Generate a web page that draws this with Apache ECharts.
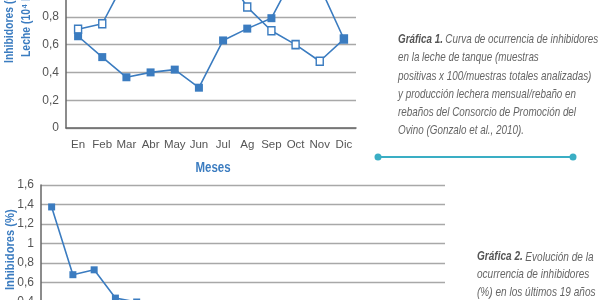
<!DOCTYPE html>
<html><head><meta charset="utf-8">
<script src="https://cdn.jsdelivr.net/npm/echarts@6/dist/echarts.min.js"></script>
<style>html,body{margin:0;padding:0;background:#fff}#c{width:600px;height:300px}</style>
</head><body><div id="c"></div>
<script>
// Gráfica 1
const months = ['En','Feb','Mar','Abr','May','Jun','Jul','Ag','Sep','Oct','Nov','Dic'];
const inhibidores = [0.66,0.51,0.365,0.40,0.42,0.29,0.63,0.715,0.79,1.12,1.02,0.64];
const leche = [0.71,0.75,1.08,1.20,1.25,1.20,1.14,0.87,0.70,0.60,0.48,0.64];
// Gráfica 2
const years = ['1990','1991','1992','1993','1994','1995','1996','1997','1998','1999','2000','2001','2002','2003','2004','2005','2006','2007','2008'];
const inhibYears = [1.375,0.68,0.73,0.44,0.40,0.35,0.30,0.28,0.25,0.22,0.20,0.18,0.20,0.17,0.15,0.14,0.12,0.12,0.10];

const FONT = "'Liberation Sans','Roboto',sans-serif";
const BLUE = '#3b7cc0';
const TXT = '#555';
const GRIDC = '#a8a8a8';
const comma = v => String(v).replace('.', ',');

const chart = echarts.init(document.getElementById('c'), null, {renderer:'canvas'});
chart.setOption({
  animation:false,
  grid:[
    {left:66, top:-11, width:290, height:139, outerBoundsMode:'none', containLabel:false},
    {left:41, top:185, width:404, height:156, outerBoundsMode:'none', containLabel:false}
  ],
  xAxis:[
    {gridIndex:0, type:'category', data:months, boundaryGap:true,
     axisLine:{lineStyle:{color:'#666', width:1.5}}, axisTick:{show:false},
     axisLabel:{color:TXT, fontFamily:FONT, fontSize:11.5, margin:11, interval:0}},
    {gridIndex:1, type:'category', data:years, boundaryGap:true,
     axisLine:{lineStyle:{color:'#666', width:1.5}}, axisTick:{show:false},
     axisLabel:{show:false}}
  ],
  yAxis:[
    {gridIndex:0, type:'value', min:0, max:1, interval:0.2,
     axisLine:{show:true, lineStyle:{color:'#666', width:1.5}}, axisTick:{show:false},
     splitLine:{lineStyle:{color:GRIDC, width:1.3}},
     axisLabel:{color:TXT, fontFamily:FONT, fontSize:12, margin:7, formatter:comma}},
    {gridIndex:1, type:'value', min:0, max:1.6, interval:0.2,
     axisLine:{show:true, lineStyle:{color:'#666', width:1.5}}, axisTick:{show:false},
     splitLine:{lineStyle:{color:GRIDC, width:1.3}},
     axisLabel:{color:TXT, fontFamily:FONT, fontSize:12, margin:7, formatter:comma}}
  ],
  series:[
    {type:'line', xAxisIndex:0, yAxisIndex:0, data:leche, symbol:'rect', symbolSize:[7,8],
     lineStyle:{color:BLUE, width:1.6}, itemStyle:{color:'#fff', borderColor:BLUE, borderWidth:1.5}, z:2},
    {type:'line', xAxisIndex:0, yAxisIndex:0, data:inhibidores, symbol:'rect', symbolSize:8,
     lineStyle:{color:BLUE, width:1.6}, itemStyle:{color:BLUE}, z:3},
    {type:'line', xAxisIndex:1, yAxisIndex:1, data:inhibYears, symbol:'rect', symbolSize:7,
     lineStyle:{color:BLUE, width:1.6}, itemStyle:{color:BLUE}}
  ],
  graphic:[
    {type:'text', x:9, y:63, rotation:Math.PI/2, scaleX:0.8,
     style:{text:'Inhibidores (%) y producción de', fill:BLUE, font:"bold 13px "+FONT, textAlign:'left', textVerticalAlign:'middle'}},
    {type:'text', x:26, y:57, rotation:Math.PI/2, scaleX:0.8,
     style:{text:'Leche (10⁴ litros/rebaño)', fill:BLUE, font:"bold 13px "+FONT, textAlign:'left', textVerticalAlign:'middle'}},
    {type:'text', x:213, y:168, scaleX:0.82,
     style:{text:'Meses', fill:BLUE, font:"bold 14px "+FONT, textAlign:'center', textVerticalAlign:'middle'}},
    {type:'text', x:10, y:290, rotation:Math.PI/2, scaleX:0.86,
     style:{text:'Inhibidores (%)', fill:BLUE, font:"bold 13px "+FONT, textAlign:'left', textVerticalAlign:'middle'}},
    {type:'text', x:398, y:30, scaleX:0.73,
     style:{rich:{b:{fontFamily:FONT, fontWeight:'bold', fontStyle:'italic', fontSize:13.5, fill:'#555', lineHeight:18.3},
                  i:{fontFamily:FONT, fontStyle:'italic', fontSize:13.5, fill:'#666', lineHeight:18.3}},
            text:'{b|Gráfica 1.} {i|Curva de ocurrencia de inhibidores}\n{i|en la leche de tanque (muestras}\n{i|positivas x 100/muestras totales analizadas)}\n{i|y producción lechera mensual/rebaño en}\n{i|rebaños del Consorcio de Promoción del}\n{i|Ovino (Gonzalo et al., 2010).}',
            textVerticalAlign:'top'}},
    {type:'line', shape:{x1:378, y1:157, x2:573, y2:157}, style:{stroke:'#3aaec4', lineWidth:2}},
    {type:'circle', shape:{cx:378, cy:157, r:3.5}, style:{fill:'#3aaec4'}},
    {type:'circle', shape:{cx:573, cy:157, r:3.5}, style:{fill:'#3aaec4'}},
    {type:'text', x:477, y:248, scaleX:0.745,
     style:{rich:{b:{fontFamily:FONT, fontWeight:'bold', fontStyle:'italic', fontSize:13.5, fill:'#555', lineHeight:17.5},
                  i:{fontFamily:FONT, fontStyle:'italic', fontSize:13.5, fill:'#666', lineHeight:17.5}},
            text:'{b|Gráfica 2.} {i|Evolución de la}\n{i|ocurrencia de inhibidores}\n{i|(%) en los últimos 19 años}',
            textVerticalAlign:'top'}}
  ]
});
</script></body></html>
